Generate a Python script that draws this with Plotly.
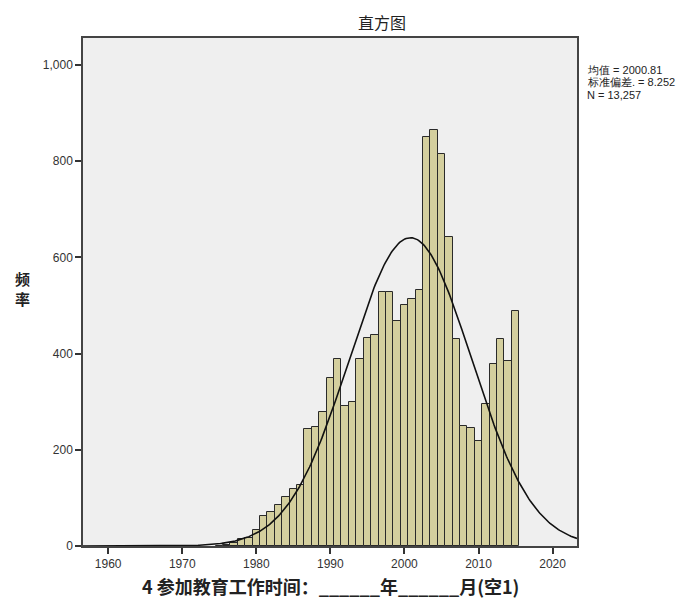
import numpy as np
import plotly.graph_objects as go

# ---- data ----
years = list(range(1975, 2016))
counts = [1, 3, 7, 14, 17, 33, 62, 71, 85, 101, 118, 127,
          243, 248, 279, 350, 389, 291, 300, 388, 432, 438,
          527, 529, 468, 500, 513, 532, 850, 865, 814, 642,
          430, 249, 246, 219, 295, 378, 430, 385, 488]
mean_val = 2000.81
sd_val = 8.252
n_val = 13257
x_ticks = [1960, 1970, 1980, 1990, 2000, 2010, 2020]
y_ticks = [0, 200, 400, 600, 800, 1000]
stats_lines = ["均值 = 2000.81", "标准偏差. = 8.252", "N = 13,257"]

title_text = "直方图"
x_title = "4 参加教育工作时间：______年______月(空1)"
y_title = "频<br>率"

# fitted normal curve from the displayed statistics
xs = np.linspace(1956.6, 2023.3, 400)
ys = n_val * 1.0 / (sd_val * np.sqrt(2 * np.pi)) * np.exp(-0.5 * ((xs - mean_val) / sd_val) ** 2)

fig = go.Figure()
fig.add_trace(go.Bar(
    x=years, y=counts, width=1,
    marker=dict(color="#D4CF9E", line=dict(color="#2a2a2a", width=1)),
    hoverinfo="x+y", showlegend=False,
))
fig.add_trace(go.Scatter(
    x=xs, y=ys, mode="lines",
    line=dict(color="#111111", width=1.6),
    showlegend=False, hoverinfo="skip",
))

# page has an 8px body margin; size the figure so the plot area lands at
# x 83..577, y 38..546 in the 694x601 window
OFF = 8
W, H = 694 - OFF, 601 - OFF
PL, PR, PT, PB = 83, 577, 38, 546
L, T = PL - OFF, PT - OFF
R = OFF + W - PR
B = OFF + H - PB

fig.update_layout(
    width=W, height=H,
    margin=dict(l=L, r=R, t=T, b=B),
    paper_bgcolor="white",
    plot_bgcolor="#EFEFEF",
    bargap=0,
    font=dict(family="Liberation Sans, Arial, sans-serif", size=12, color="#222222"),
    xaxis=dict(
        range=[1956.6, 2023.3],
        tickvals=x_ticks, ticktext=[str(v) for v in x_ticks],
        ticks="outside", ticklen=6, tickwidth=1.5, tickcolor="#333333",
        showgrid=False, zeroline=False,
        showline=True, linecolor="#444444", linewidth=1.5, mirror=True,
        tickfont=dict(size=12, color="#333333"),
    ),
    yaxis=dict(
        range=[0, 1056],
        tickvals=y_ticks, tickformat=",d",
        ticks="outside", ticklen=6, tickwidth=1.5, tickcolor="#333333",
        showgrid=False, zeroline=False,
        showline=True, linecolor="#444444", linewidth=1.5, mirror=True,
        tickfont=dict(size=12, color="#333333"),
    ),
)


def px_x(p):
    return (p - PL) / (PR - PL)


def px_y(p):
    return (PB - p) / (PB - PT)


annotations = [
    dict(text=title_text, x=px_x(382), y=px_y(22), xref="paper", yref="paper",
         showarrow=False, xanchor="center", yanchor="middle",
         font=dict(family="Noto Sans CJK SC", size=16, color="#222222")),
    dict(text="<b>" + x_title + "</b>", x=px_x(330), y=px_y(586), xref="paper", yref="paper",
         showarrow=False, xanchor="center", yanchor="middle",
         font=dict(family="Noto Sans CJK SC", size=18, color="#222222")),
    dict(text="<b>" + y_title + "</b>", x=px_x(22), y=px_y(288), xref="paper", yref="paper",
         showarrow=False, xanchor="center", yanchor="middle",
         font=dict(family="Noto Sans CJK SC", size=15, color="#222222")),
]
for i, line in enumerate(stats_lines):
    annotations.append(dict(
        text=line, x=px_x(585), y=px_y(70 + 12.5 * i), xref="paper", yref="paper",
        showarrow=False, xanchor="left", yanchor="middle",
        font=dict(family="Liberation Sans, Arial, sans-serif", size=11, color="#222222")))
fig.update_layout(annotations=annotations)

fig.write_html("out.html")
